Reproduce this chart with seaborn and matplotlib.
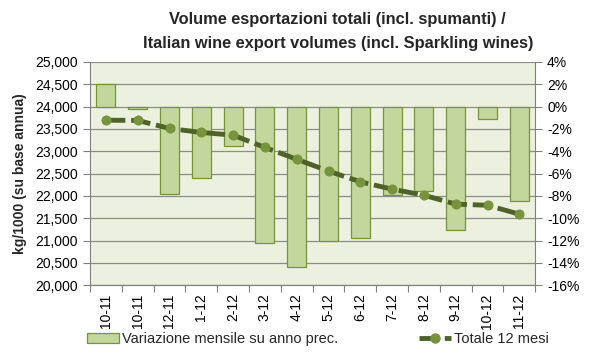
import numpy as np
import pandas as pd
import matplotlib
matplotlib.use("Agg")
import matplotlib.pyplot as plt
import seaborn as sns
from matplotlib.ticker import FuncFormatter, FixedLocator
from matplotlib.patches import Patch
from matplotlib.lines import Line2D

months = ["10-11", "10-11", "12-11", "1-12", "2-12", "3-12", "4-12", "5-12",
          "6-12", "7-12", "8-12", "9-12", "10-12", "11-12"]
var_pct = [2.0, -0.2, -7.8, -6.4, -3.5, -12.2, -14.4, -12.0, -11.8, -7.9, -7.6, -11.1, -1.1, -8.5]
tot_12m = [23695, 23690, 23510, 23420, 23360, 23085, 22820, 22555, 22315, 22150, 22015, 21815, 21790, 21590]

bar_label = "Variazione mensile su anno prec."
line_label = "Totale 12 mesi"

df = pd.DataFrame({"pos": np.arange(len(months)), "var": var_pct, "tot": tot_12m})

sns.set_style("white")
plt.rcParams["font.family"] = ["Liberation Sans", "DejaVu Sans"]

fig = plt.figure(figsize=(6, 3.56), dpi=100)
ax = fig.add_axes([0.15, 0.199, 0.742, 0.627])
ax2 = ax.twinx()

# bars on right axis, behind the line
ax.set_zorder(ax2.get_zorder() + 1)
ax.patch.set_visible(False)
ax2.patch.set_facecolor("#EBF1DE")
ax2.patch.set_visible(True)

sns.barplot(data=df, x="pos", y="var", ax=ax2, color="#C3D69B", width=0.6,
            edgecolor="#77933C", linewidth=0.9, saturation=1, zorder=2)
sns.lineplot(data=df, x="pos", y="tot", ax=ax, color="#4F6228", linewidth=3.5,
             marker="o", markersize=6.5, markerfacecolor="#77933C",
             markeredgecolor="#77933C", zorder=5)
ax.lines[0].set_dashes([4, 1.2])

ax.set_xlim(-0.5, len(months) - 0.5)
ax.set_ylim(20000, 25000)
ax2.set_ylim(-16, 4)
ax.set_yticks(np.arange(20000, 25001, 500))
ax2.set_yticks(np.arange(-16, 4.1, 2))
ax.yaxis.set_major_formatter(FuncFormatter(lambda v, p: f"{int(v):,}"))
ax2.yaxis.set_major_formatter(FuncFormatter(lambda v, p: f"{int(v)}%"))

ax2.set_axisbelow(True)
ax2.grid(axis="y", color="#8C8C8C", linewidth=0.9)
ax.grid(False)

ax.set_xticks(np.arange(len(months)))
ax.set_xticklabels(months, rotation=90, fontsize=10)
ax.xaxis.set_minor_locator(FixedLocator(np.arange(-0.5, len(months), 1)))
ax.tick_params(axis="x", which="major", length=0, pad=6, colors="black", bottom=True)
ax.tick_params(axis="x", which="minor", length=5, color="#808080", width=0.8, direction="out", bottom=True)
ax.tick_params(axis="y", which="major", length=5, color="#808080", width=0.8, direction="out", labelsize=10, labelcolor="black", left=True)
ax2.tick_params(axis="y", which="major", length=5, color="#808080", width=0.8, direction="out", labelsize=10, labelcolor="black", right=True)

for a in (ax, ax2):
    for s in a.spines.values():
        s.set_color("#808080")
        s.set_linewidth(0.8)
    a.spines["top"].set_visible(False)
ax2.spines["left"].set_visible(False)
ax.spines["right"].set_visible(False)

ax.set_xlabel("")
ax2.set_xlabel("")
ax2.set_ylabel("")
ax.set_ylabel("kg/1000 (su base annua)", fontsize=10, fontweight="bold", labelpad=6)

fig.text(0.563, 0.945, "Volume esportazioni totali (incl. spumanti) /", ha="center", va="center",
         fontsize=11.8, fontweight="bold")
fig.text(0.563, 0.878, "Italian wine export volumes (incl. Sparkling wines)", ha="center", va="center",
         fontsize=11.8, fontweight="bold")

handles = [Patch(facecolor="#C3D69B", edgecolor="#77933C", linewidth=0.9),
           Line2D([0], [0], color="#4F6228", linewidth=3.5, dashes=[4, 1.2], marker="o",
                  markersize=6.5, markerfacecolor="#77933C", markeredgecolor="#77933C")]
fig.legend(handles, [bar_label, line_label], loc="lower center", bbox_to_anchor=(0.53, -0.01),
           ncol=2, frameon=False, fontsize=10.5, columnspacing=5.5, handlelength=2.2,
           handletextpad=0.2)

fig.savefig("out.png", dpi=100, facecolor="white")
